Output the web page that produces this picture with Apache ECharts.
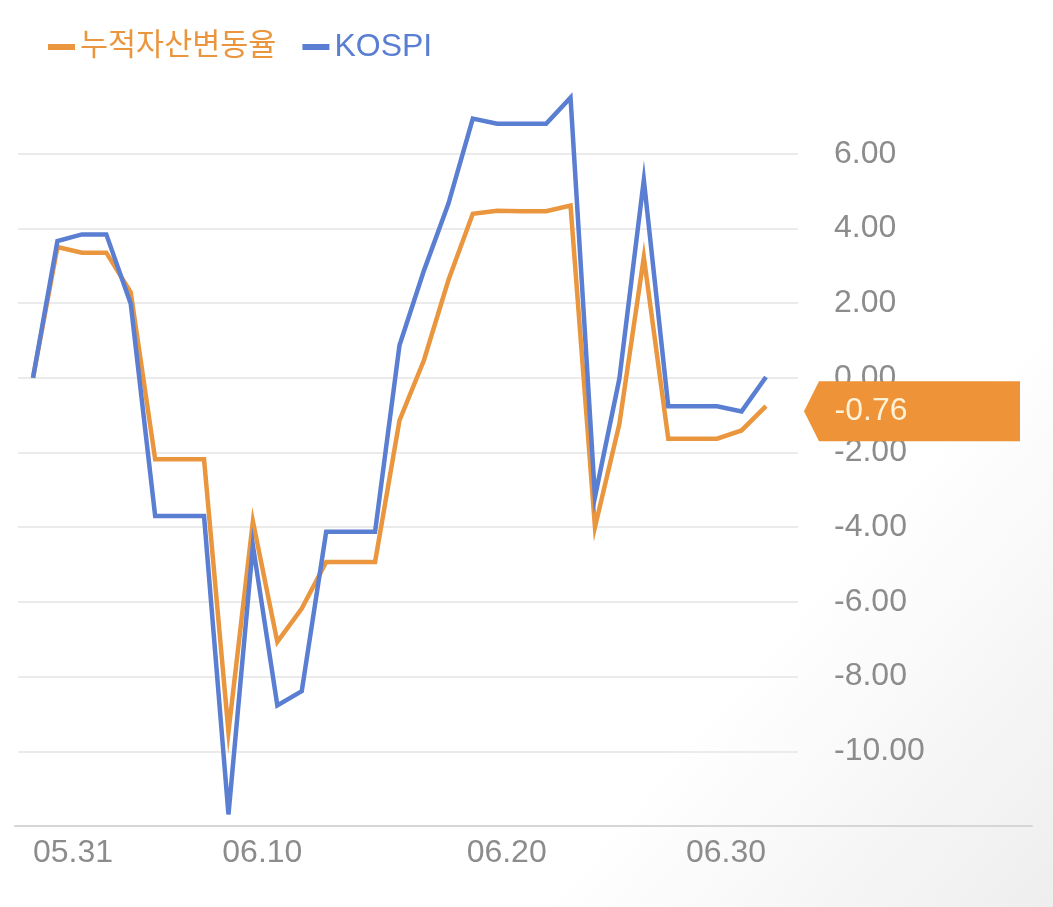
<!DOCTYPE html>
<html>
<head>
<meta charset="utf-8">
<script src="https://cdn.jsdelivr.net/npm/echarts@6/dist/echarts.min.js"></script>
<style>
  html, body { margin: 0; padding: 0; background: #fff; }
  #chart { width: 1053px; height: 907px; }
</style>
</head>
<body>
<div id="chart"></div>
<script>
// daily points, 05.31 (base) .. 06.30
var dates = ['05.31', '06.01', '06.02', '06.03', '06.04', '06.05', '06.06', '06.07', '06.08', '06.09',
  '06.10', '06.11', '06.12', '06.13', '06.14', '06.15', '06.16', '06.17', '06.18', '06.19',
  '06.20', '06.21', '06.22', '06.23', '06.24', '06.25', '06.26', '06.27', '06.28', '06.29', '06.30'];
var assetChange = [0, 3.50, 3.35, 3.35, 2.29, -2.18, -2.18, -2.18, -9.48, -3.84,
  -7.07, -6.18, -4.93, -4.93, -4.93, -1.14, 0.47, 2.61, 4.39, 4.47,
  4.46, 4.46, 4.61, -4.00, -1.23, 3.23, -1.63, -1.63, -1.63, -1.41, -0.76];
var kospi = [0, 3.66, 3.84, 3.84, 1.98, -3.70, -3.70, -3.70, -11.69, -4.49,
  -8.77, -8.39, -4.12, -4.12, -4.12, 0.87, 2.87, 4.66, 6.94, 6.80,
  6.80, 6.80, 7.50, -3.19, -0.02, 5.30, -0.76, -0.76, -0.76, -0.90, 0.02];
var xLabels = ['05.31', '06.10', '06.20', '06.30'];
var yMin = -12, yMax = 8, yStep = 2;

var orange = '#E9963F';
var blue = '#5A7ED2';
var grey = '#8c8c8c';
var fontLatin = "'Liberation Sans', 'Noto Sans CJK KR', sans-serif";

var chart = echarts.init(document.getElementById('chart'));
var lastIdx = assetChange.length - 1;

var option = {
  animation: false,
  backgroundColor: {
    type: 'linear', x: 0, y: 0, x2: 1, y2: 1,
    colorStops: [{ offset: 0, color: '#ffffff' }, { offset: 0.72, color: '#ffffff' }, { offset: 1, color: '#eeeeee' }]
  },
  textStyle: { fontFamily: fontLatin },
  legend: {
    left: 48,
    top: 31,
    padding: 0,
    icon: 'rect',
    itemWidth: 27,
    itemHeight: 6,
    itemGap: 26,
    selectedMode: false,
    data: [
      { name: '누적자산변동율', textStyle: { color: orange, fontSize: 30.5 } },
      { name: 'KOSPI', textStyle: { color: blue, fontSize: 32 } }
    ]
  },
  grid: [
    // data area
    { left: 33, right: 287, top: 79, bottom: 81, outerBoundsMode: 'none' },
    // grid lines + y labels
    { left: 18, right: 255, top: 79, bottom: 81, outerBoundsMode: 'none' },
    // bottom axis line
    { left: 15, right: 21, top: 79, bottom: 81, outerBoundsMode: 'none' }
  ],
  xAxis: [
    {
      gridIndex: 0,
      type: 'category',
      data: dates,
      boundaryGap: false,
      axisLine: { show: false, onZero: false },
      axisTick: { show: false },
      splitLine: { show: false },
      axisLabel: {
        interval: function (i, v) { return xLabels.indexOf(v) >= 0; },
        margin: 11,
        fontSize: 32,
        color: grey,
        alignMinLabel: 'left',
        alignMaxLabel: 'right',
        formatter: function (v, i) {
          var first = v === xLabels[0], last = v === xLabels[xLabels.length - 1];
          return (first || last) ? v : '{mid|' + v + '}';
        },
        rich: {
          mid: { fontSize: 32, color: grey, padding: [0, 30, 0, 0] }
        }
      }
    },
    { gridIndex: 1, type: 'value', show: false },
    {
      gridIndex: 2,
      type: 'value',
      axisLine: { show: true, onZero: false, lineStyle: { color: '#d6d6d6', width: 2 } },
      axisTick: { show: false },
      axisLabel: { show: false },
      splitLine: { show: false }
    }
  ],
  yAxis: [
    { gridIndex: 0, type: 'value', min: yMin, max: yMax, interval: yStep, show: false },
    {
      gridIndex: 1,
      type: 'value',
      position: 'right',
      min: yMin,
      max: yMax,
      interval: yStep,
      axisLine: { show: false },
      axisTick: { show: false },
      axisLabel: {
        margin: 36,
        fontSize: 32,
        color: grey,
        showMinLabel: false,
        showMaxLabel: false,
        formatter: function (v) { return v.toFixed(2); }
      },
      splitLine: {
        show: true,
        showMinLine: false,
        showMaxLine: false,
        lineStyle: { color: '#ebebeb', width: 2 }
      }
    },
    { gridIndex: 2, type: 'value', min: yMin, max: yMax, show: false }
  ],
  series: [
    {
      name: '누적자산변동율',
      type: 'line',
      xAxisIndex: 0,
      yAxisIndex: 0,
      data: assetChange,
      symbol: 'none',
      color: orange,
      lineStyle: { color: orange, width: 4.5, join: 'miter' },
      markPoint: {
        silent: true,
        symbol: 'path://M0,30 L15,0 L216,0 L216,60 L15,60 Z',
        symbolSize: [216, 60],
        symbolOffset: [146, 5],
        itemStyle: { color: '#EE9337' },
        label: {
          show: true,
          position: 'inside',
          offset: [-41, 0],
          color: '#FDF1D6',
          fontSize: 32,
          formatter: function (p) { return p.value.toFixed(2); }
        },
        data: [{ coord: [dates[lastIdx], assetChange[lastIdx]], value: assetChange[lastIdx] }]
      }
    },
    {
      name: 'KOSPI',
      type: 'line',
      xAxisIndex: 0,
      yAxisIndex: 0,
      data: kospi,
      symbol: 'none',
      color: blue,
      lineStyle: { color: blue, width: 4.5, join: 'miter' }
    }
  ]
};

chart.setOption(option);
</script>
</body>
</html>
